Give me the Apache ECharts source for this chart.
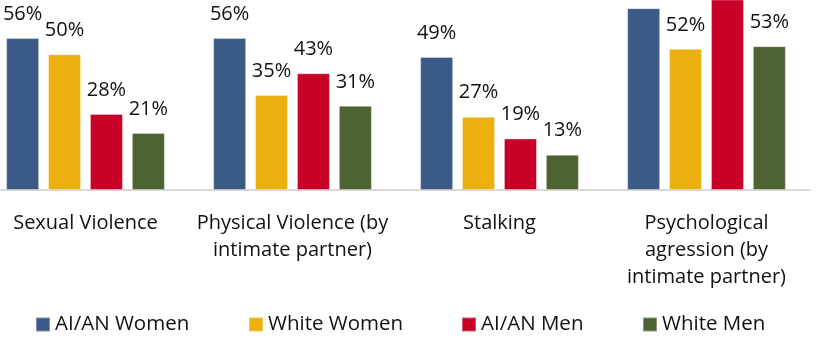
<!DOCTYPE html>
<html>
<head>
<meta charset="utf-8">
<script src="https://cdn.jsdelivr.net/npm/echarts@6/dist/echarts.min.js"></script>
<style>
  html, body { margin: 0; padding: 0; background: #fff; }
  #chart { width: 825px; height: 339px; }
</style>
</head>
<body>
<div id="chart"></div>
<script>
// Victimization rates, percent, by group
const categories = [
  'Sexual Violence',
  'Physical Violence (by\nintimate partner)',
  'Stalking',
  'Psychological\nagression (by\nintimate partner)'
];
const seriesNames = ['AI/AN Women', 'White Women', 'AI/AN Men', 'White Men'];
const aianWomen = [56, 56, 49, 67];
const whiteWomen = [50, 35, 27, 52];
const aianMen = [28, 43, 19, 73];
const whiteMen = [21, 31, 13, 53];

const colors = ['#3B5A86', '#EBAF0E', '#C80028', '#4D6331'];
const seriesData = [aianWomen, whiteWomen, aianMen, whiteMen];
const legendLeft = [35, 248, 461, 642];
const FONT = '"Open Sans", sans-serif';

const chart = echarts.init(document.getElementById('chart'), null, { renderer: 'canvas' });

chart.setOption({
  animation: false,
  color: colors,
  grid: {
    left: -18, right: 15, top: 0, bottom: 149,
    containLabel: false,
    outerBoundsMode: 'none'
  },
  legend: seriesNames.map((name, i) => ({
    data: [name],
    left: legendLeft[i],
    top: 314,
    padding: 0,
    icon: 'rect',
    itemWidth: 14,
    itemHeight: 14,
    selectedMode: false,
    textStyle: { fontFamily: FONT, fontSize: 20.5, color: '#111', lineHeight: 20 }
  })),
  xAxis: {
    type: 'category',
    data: categories,
    axisTick: { show: false },
    axisLine: { show: true, lineStyle: { color: '#d9d9d9', width: 2 } },
    axisLabel: {
      interval: 0,
      margin: 20,
      fontFamily: FONT,
      fontSize: 20,
      lineHeight: 27,
      color: '#111',
      align: 'center',
      hideOverlap: false
    }
  },
  yAxis: {
    type: 'value',
    min: 0,
    max: 70,
    show: false,
    splitLine: { show: false }
  },
  series: seriesNames.map((name, i) => ({
    name: name,
    type: 'bar',
    data: seriesData[i],
    barWidth: 33,
    barGap: '27%',
    clip: true,
    itemStyle: {
      color: colors[i],
      borderColor: 'rgba(255,255,255,0.35)',
      borderWidth: 1
    },
    label: {
      show: true,
      position: 'top',
      distance: 14,
      fontFamily: FONT,
      fontSize: 20,
      color: '#111',
      formatter: p => Math.round(p.value) + '%'
    }
  }))
});
</script>
</body>
</html>
